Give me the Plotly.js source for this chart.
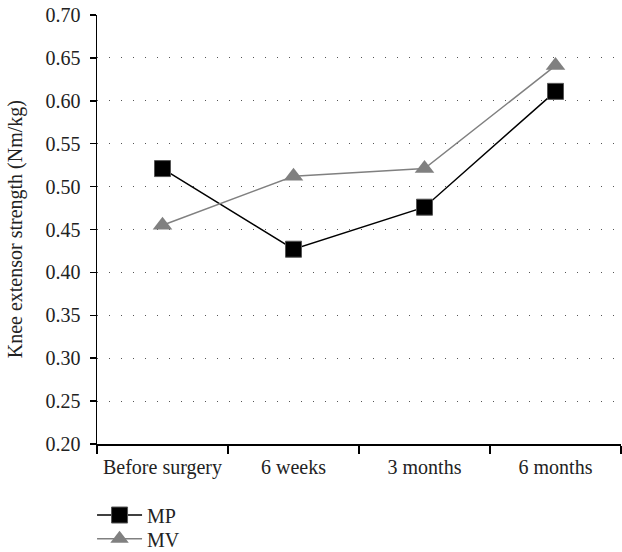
<!DOCTYPE html>
<html><head><meta charset="utf-8">
<script src="https://cdn.plot.ly/plotly-3.0.1.min.js"></script>
<style>html,body{margin:0;padding:0;background:#fff}#chart{width:622px;height:552px}</style>
</head><body><div id="chart"></div>
<script>
var categories = ["Before surgery", "6 weeks", "3 months", "6 months"];
var mpValues = [0.521, 0.427, 0.476, 0.611];
var mvValues = [0.455, 0.512, 0.521, 0.641];
var yTicks = [0.20,0.25,0.30,0.35,0.40,0.45,0.50,0.55,0.60,0.65,0.70];
var yTickLabels = yTicks.map(function(v){return v.toFixed(2);});
var yTitle = "Knee extensor strength (Nm/kg)";

var font = "Liberation Serif, Times New Roman, serif";
var traces = [
  {x: categories, y: mpValues, name: "MP", type: "scatter", mode: "lines+markers", legend: "legend",
   line: {color: "#000000", width: 1.5},
   marker: {symbol: "square", size: 16, color: "#000000", line: {color: "#555", width: 1}}},
  {x: categories, y: mvValues, name: "MV", type: "scatter", mode: "lines+markers", legend: "legend2",
   line: {color: "#808080", width: 1.5},
   marker: {symbol: "triangle-up", size: 17, color: "#808080", line: {width: 0}}}
];
var legendBase = {xref: "container", yref: "container", x: 0.148, xanchor: "left", yanchor: "middle",
           orientation: "v", font: {family: font, size: 20, color: "#222"},
           itemwidth: 45, bgcolor: "rgba(0,0,0,0)"};
var layout = {
  width: 622, height: 552,
  margin: {l: 97, r: 1, t: 15, b: 108, autoexpand: false},
  paper_bgcolor: "#fff", plot_bgcolor: "#fff",
  font: {family: font, size: 20, color: "#222"},
  showlegend: true,
  legend: Object.assign({}, legendBase, {y: 0.067}),
  legend2: Object.assign({}, legendBase, {y: 0.024}),
  xaxis: {type: "category", range: [-0.5, 3.5], showgrid: false, zeroline: false, automargin: false,
          showline: true, linecolor: "#000", linewidth: 1.5, tickangle: 0, ticklabelstandoff: 4,
          ticks: "outside", tickson: "boundaries", ticklen: 8, tickcolor: "#000", tickwidth: 1.5,
          tickfont: {family: font, size: 20, color: "#222"}},
  yaxis: {range: [0.20, 0.70], tickvals: yTicks, ticktext: yTickLabels, automargin: false,
          showgrid: true, gridcolor: "#555", gridwidth: 1, griddash: "1px,11px",
          zeroline: false, showline: true, linecolor: "#000", linewidth: 1.5,
          ticks: "outside", ticklen: 6, tickcolor: "#000", tickwidth: 1.5, ticklabelstandoff: 5,
          tickfont: {family: font, size: 20, color: "#222"}},
  annotations: [{text: yTitle, xref: "paper", yref: "paper", x: -0.155, y: 0.5,
                 xanchor: "center", yanchor: "middle", textangle: -90, showarrow: false,
                 font: {family: font, size: 20, color: "#222"}}]
};
Plotly.newPlot("chart", traces, layout, {displayModeBar: false, staticPlot: true});
</script></body></html>
